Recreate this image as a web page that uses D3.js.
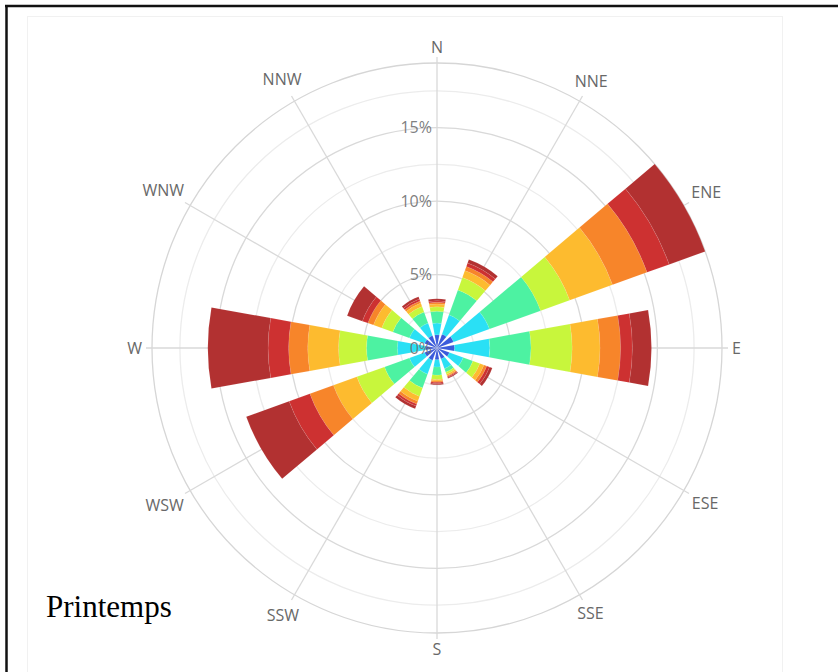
<!DOCTYPE html>
<html>
<head>
<meta charset="utf-8">
<script src="https://cdn.jsdelivr.net/npm/d3@7"></script>
<style>
  body { margin: 0; background: #fff; }
  svg { display: block; }
</style>
</head>
<body>
<svg id="chart" width="838" height="672"></svg>
<script>
// Spring wind rose, 12 sectors, stacked by speed class (% of time).
const directions = ['N', 'NNE', 'ENE', 'E', 'ESE', 'SSE', 'S', 'SSW', 'WSW', 'W', 'WNW', 'NNW'];
const speedClasses = ['c1', 'c2', 'c3', 'c4', 'c5', 'c6', 'c7', 'c8'];
const classColors = ['#3b5bdb', '#2ae0f5', '#4df2a2', '#c8f63c', '#fdbb2f', '#f7852a', '#cd3131', '#b23131'];

// one array per speed class, values in direction order
const c1 = [0.9, 1.0, 1.2, 1.2, 0.9, 0.8, 0.8, 0.9, 0.9, 0.8, 0.9, 0.9];
const c2 = [0.8, 1.4, 2.6, 2.4, 1.0, 0.7, 0.5, 1.0, 1.1, 1.9, 1.1, 0.9];
const c3 = [0.8, 1.8, 3.7, 2.8, 0.7, 0.25, 0.55, 1.0, 1.8, 2.1, 1.2, 0.8];
const c4 = [0.3, 0.9, 2.1, 2.8, 0.5, 0.15, 0.3, 0.6, 2.0, 1.9, 0.8, 0.4];
const c5 = [0.2, 0.5, 3.1, 1.9, 0.3, 0.1, 0.1, 0.35, 1.7, 2.1, 0.6, 0.25];
const c6 = [0.12, 0.3, 2.5, 1.4, 0.2, 0.08, 0.08, 0.2, 1.7, 1.3, 0.4, 0.15];
const c7 = [0.1, 0.25, 1.6, 0.8, 0.2, 0.06, 0.09, 0.15, 1.5, 1.4, 0.4, 0.15];
const c8 = [0.13, 0.25, 2.6, 1.3, 0.2, 0.06, 0.08, 0.2, 3.1, 4.1, 1.1, 0.15];

const radialTicks = [0, 5, 10, 15];
const title = 'Printemps';

const W = 838, H = 672;
const cx = 437, cy = 348, R = 285;

const series = [c1, c2, c3, c4, c5, c6, c7, c8];
const rows = directions.map((d, i) => {
  const row = { dir: d };
  speedClasses.forEach((k, j) => { row[k] = series[j][i]; });
  return row;
});

const stacked = d3.stack().keys(speedClasses)(rows);
const totals = rows.map(r => d3.sum(speedClasses, k => r[k]));

const svg = d3.select('#chart');

// frame
svg.append('rect').attr('x', 0).attr('y', 0).attr('width', W).attr('height', H).attr('fill', '#fff');
svg.append('rect').attr('x', 27.5).attr('y', 16.5).attr('width', 755).attr('height', 700)
  .attr('fill', 'none').attr('stroke', '#f1f1f1');
svg.append('line').attr('x1', 5).attr('x2', W).attr('y1', 6).attr('y2', 6).attr('stroke', '#111').attr('stroke-width', 2.5);
svg.append('line').attr('x1', 6.5).attr('x2', 6.5).attr('y1', 5).attr('y2', H).attr('stroke', '#111').attr('stroke-width', 2.5);

const g = svg.append('g').attr('transform', `translate(${cx},${cy})`);

const r = d3.scaleLinear().domain([0, d3.max(totals)]).range([0, R]);
const step = 2 * Math.PI / directions.length;
const theta = d => directions.indexOf(d) * step;

// circular gridlines
const minor = d3.range(2.5, r.domain()[1], 2.5);
g.append('g').selectAll('circle')
  .data(minor)
  .join('circle')
  .attr('r', d => r(d))
  .attr('fill', 'none')
  .attr('stroke', d => (d % 5 === 0 ? '#d9d9d9' : '#ececec'))
  .attr('stroke-width', 1.3);
g.append('circle').attr('r', R).attr('fill', 'none').attr('stroke', '#d6d6d6').attr('stroke-width', 1.3);

// spokes
g.append('g').selectAll('line')
  .data(directions)
  .join('line')
  .attr('x1', 0).attr('y1', 0)
  .attr('x2', d => Math.sin(theta(d)) * (R + 6))
  .attr('y2', d => -Math.cos(theta(d)) * (R + 6))
  .attr('stroke', '#d9d9d9')
  .attr('stroke-width', 1.3);

// stacked bars
const half = step * 0.34;
const arc = d3.arc();
g.append('g').selectAll('g')
  .data(stacked)
  .join('g')
  .attr('fill', (s, i) => classColors[i])
  .selectAll('path')
  .data(s => s)
  .join('path')
  .attr('d', d => arc({
    innerRadius: r(d[0]),
    outerRadius: r(d[1]),
    startAngle: theta(d.data.dir) - half,
    endAngle: theta(d.data.dir) + half
  }))
  .attr('stroke', 'rgba(255,255,255,0.12)')
  .attr('stroke-width', 0.6);

// radial labels
g.append('g').selectAll('text')
  .data(radialTicks)
  .join('text')
  .attr('x', -5)
  .attr('y', d => -r(d))
  .attr('dy', '0.36em')
  .attr('text-anchor', 'end')
  .attr('fill', '#6f6f6f')
  .attr('fill-opacity', 0.9)
  .style('font-family', '"Open Sans", sans-serif')
  .style('font-size', '16px')
  .text(d => d + '%');

// direction labels
const lab = g.append('g').selectAll('text')
  .data(directions)
  .join('text')
  .attr('text-anchor', 'middle')
  .attr('dy', '0.36em')
  .attr('fill', '#686868')
  .style('font-family', '"Open Sans", sans-serif')
  .style('font-size', '16px')
  .text(d => d);
lab.each(function (d) {
  const a = theta(d);
  const w = this.getComputedTextLength() / 2;
  const rr = 295 + w * Math.abs(Math.sin(a)) + 6 * Math.abs(Math.cos(a));
  d3.select(this).attr('x', Math.sin(a) * rr).attr('y', -Math.cos(a) * rr);
});

svg.append('text')
  .attr('x', 46)
  .attr('y', 617)
  .style('font-family', '"Liberation Serif", "Times New Roman", serif')
  .style('font-size', '31px')
  .attr('fill', '#000')
  .text(title);
</script>
</body>
</html>
